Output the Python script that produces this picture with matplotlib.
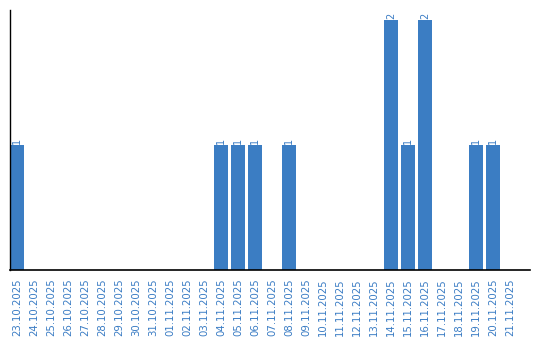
import matplotlib
matplotlib.use('Agg')
import matplotlib.pyplot as plt
import numpy as np

dates = ['23.10.2025', '24.10.2025', '25.10.2025', '26.10.2025', '27.10.2025',
         '28.10.2025', '29.10.2025', '30.10.2025', '31.10.2025', '01.11.2025',
         '02.11.2025', '03.11.2025', '04.11.2025', '05.11.2025', '06.11.2025',
         '07.11.2025', '08.11.2025', '09.11.2025', '10.11.2025', '11.11.2025',
         '12.11.2025', '13.11.2025', '14.11.2025', '15.11.2025', '16.11.2025',
         '17.11.2025', '18.11.2025', '19.11.2025', '20.11.2025', '21.11.2025']
counts = [1, 0, 0, 0, 0, 0, 0, 0, 0, 0,
          0, 0, 1, 1, 1, 0, 1, 0, 0, 0,
          0, 0, 2, 1, 2, 0, 0, 1, 1, 0]

bar_color = '#3b7dc3'
text_color = '#3a7cc4'

fig = plt.figure(figsize=(5.4, 3.4), dpi=100)
ax = fig.add_axes([10 / 540, 70 / 340, 520 / 540, 260 / 340])

x = np.arange(len(dates))
w = 14 / 17
ax.bar(x, counts, width=w, align='edge', color=bar_color)

for i, c in enumerate(counts):
    if c > 0:
        ax.text(i + w / 2, c + 0.01, str(c), rotation=90, ha='center', va='bottom',
                color=text_color, fontsize=7)

ax.set_xlim(0, 520 / 17)
ax.set_ylim(0, 260 / 125)
ax.set_xticks(x + w / 2)
ax.set_xticklabels(dates, rotation=90, fontsize=7.3, color=text_color)
ax.tick_params(axis='x', length=0, pad=6)
ax.set_yticks([])
for s in ['top', 'right']:
    ax.spines[s].set_visible(False)
ax.spines['left'].set_linewidth(1)
ax.spines['bottom'].set_linewidth(1.2)

fig.savefig('out.png', dpi=100)
